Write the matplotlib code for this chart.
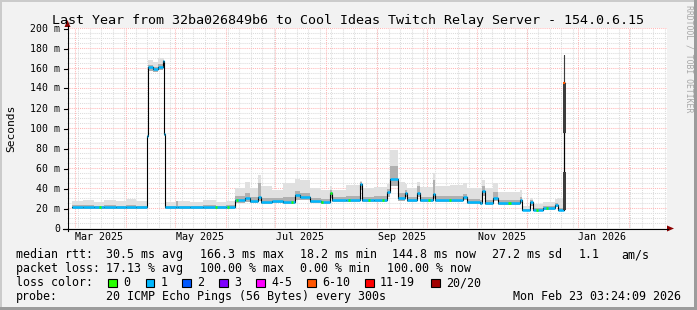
import numpy as np
import matplotlib
matplotlib.use("Agg")
import matplotlib.pyplot as plt
from matplotlib.patches import Rectangle, Polygon
from matplotlib.lines import Line2D

# days since 2025-03-01, one node per step of the median line
days = [-1.5, 5, 12, 18, 25, 31, 37, 44.1, 44.7, 47.7, 50.8, 53.8, 54.4, 55.0, 61.7, 62.6,
        70, 78, 86, 92, 97.6, 103.7, 106.8, 111.6, 113.5, 120, 126.8, 134.1, 137.2, 143.2,
        150, 155.4, 156.6, 165, 173.5, 174.8, 182, 190.1, 191.9, 196.8, 201.0, 202.2, 208.3,
        210.1, 218.1, 219.3, 228, 236.3, 238.7, 246.6, 247.8, 249.6, 254.5, 257.5, 264,
        270.9, 272.1, 276.9, 278.8, 284.9, 292.2, 294.1, 297.4, 298.3]
median_ms = [21, 21, 21, 21, 21, 21, 21, 92, 161, 159, 161, 167, 94, 21, 21, 21,
             21, 21, 21, 21, 28, 30, 27, 31, 26, 27, 26, 33, 31, 27,
             26, 35, 28, 28, 44, 28, 28, 36, 49, 30, 35, 28, 35,
             28, 34, 28, 28, 31, 26, 25, 37, 25, 30, 25, 25,
             28, 18, 26, 18, 20, 23, 18, 145, 145]
smoke_lo = [19, 19, 19, 19, 19, 19, 19, 90, 157, 156, 158, 163, 92, 19, 19, 19,
            19, 19, 19, 19, 25, 26, 25, 27, 24, 25, 24, 28, 28, 25,
            24, 30, 26, 26, 38, 26, 26, 31, 42, 27, 31, 26, 31,
            26, 30, 26, 26, 28, 24, 23, 32, 23, 27, 23, 23,
            25, 17, 22, 17, 18, 21, 17, 145, 145]
smoke_dark = [23, 23, 22, 23, 22, 23, 22, 93, 163, 161, 164, 168, 95, 22, 27, 22,
              22, 23, 22, 23, 32, 35, 31, 45, 30, 30, 31, 37, 35, 30,
              29, 38, 31, 32, 46, 31, 32, 39, 62, 35, 38, 31, 42,
              31, 48, 32, 32, 34, 29, 28, 42, 28, 36, 28, 28,
              31, 19, 28, 20, 22, 25, 20, 145, 145]
smoke_hi = [27, 28, 26, 28, 27, 29, 27, 95, 168, 166, 170, 170, 96, 26, 27, 27,
            26, 28, 26, 27, 40, 46, 40, 53, 42, 38, 45, 49, 48, 40,
            38, 42, 38, 43, 47, 40, 41, 44, 78, 46, 44, 40, 46,
            41, 55, 42, 43, 45, 40, 40, 48, 40, 45, 36, 36,
            38, 22, 30, 24, 26, 29, 30, 145, 145]
loss_idx = [1] * 62 + [5, 5]
green_days = [15.5, 86.1, 93.4, 98.8, 132.3, 150.5, 156, 167, 179.2, 187.7,
              215.7, 228.5, 264.4, 281.4, 287.5]

# last burst before the data stops
burst_day = 297.9
burst_lo = [18, 95, 145]
burst_hi = [56, 145, 173]

loss_labels = ["0", "1", "2", "3", "4-5", "6-10", "11-19", "20/20"]
loss_colors = ["#26ff00", "#00b8ff", "#0059ff", "#7e00ff", "#ff00ff", "#ff5500", "#ff0000", "#a00000"]

y_ticks = list(range(0, 201, 20))
month_labels = ["Mar 2025", "May 2025", "Jul 2025", "Sep 2025", "Nov 2025", "Jan 2026"]
label_months = ["2025-03", "2025-05", "2025-07", "2025-09", "2025-11", "2026-01"]

title = "Last Year from 32ba026849b6 to Cool Ideas Twitch Relay Server - 154.0.6.15"
rtt_row = [(16, "median rtt:"), (106.5, "30.5 ms avg"), (199.5, "166.3 ms max"),
           (299.5, "18.2 ms min"), (392.5, "144.8 ms now"), (492.5, "27.2 ms sd"),
           (579, "1.1"), (621.5, "am/s")]
loss_row = [(16, "packet loss:"), (106.5, "17.13 % avg"), (199.5, "100.00 % max"),
            (299.5, "0.00 % min"), (386.5, "100.00 % now")]
probe_text = "20 ICMP Echo Pings (56 Bytes) every 300s"
stamp_text = "Mon Feb 23 03:24:09 2026"
box_x = [108, 145.5, 182, 219, 256, 307, 365, 431]

MONO = "DejaVu Sans Mono"
W, H = 697, 310


def fx(x):
    return x / W


def fy(y):
    return 1 - y / H


base = np.datetime64("2025-03-01")
fig = plt.figure(figsize=(W / 100, H / 100), dpi=100, facecolor="#f2f2f2")

# frame shading
fig.add_artist(Rectangle((0, fy(2)), 1, 2 / H, transform=fig.transFigure, color="#cbcbcb", lw=0))
fig.add_artist(Rectangle((0, 0), 2 / W, 1, transform=fig.transFigure, color="#cbcbcb", lw=0))
fig.add_artist(Rectangle((0, 0), 1, 3 / H, transform=fig.transFigure, color="#9c9c9c", lw=0))
fig.add_artist(Rectangle((fx(694), 0), 3 / W, 1, transform=fig.transFigure, color="#9c9c9c", lw=0))

ax = fig.add_axes([fx(67), fy(228), 600 / W, 200 / H])
ax.set_facecolor("white")
ax.set_xlim(-4.7, 360.3)
ax.set_ylim(0, 200)
for s in ax.spines.values():
    s.set_visible(False)
ax.set_xticks([])
ax.set_yticks([])

# grid
month_days = (np.arange("2025-03", "2026-03", dtype="datetime64[M]").astype("datetime64[D]") - base).astype(int)
week_days = np.arange(2, 360, 7)
gkw = dict(lw=0.75, ls=(0, (1, 1)), zorder=0.5)
for v in range(5, 201, 5):
    if v % 20:
        ax.axhline(v, color="#dcdcdc", **gkw)
for wd in week_days:
    ax.axvline(wd, color="#dcdcdc", **gkw)
for v in y_ticks[1:]:
    ax.axhline(v, color="#ffb8b8", **gkw)
for md in month_days:
    ax.axvline(md, color="#ffb8b8", **gkw)

# smoke and median
d = np.array(days)
m = np.array(median_ms)
ax.fill_between(d, smoke_lo, smoke_hi, step="post", color="#e0e0e0", lw=0, zorder=1)
ax.fill_between(d, smoke_lo, smoke_dark, step="post", color="#b0b0b0", lw=0, zorder=1.1)
ax.step(d, m, where="post", color="black", lw=0.8, zorder=2)
ax.hlines(m[:-1], d[:-1], d[1:], colors=[loss_colors[i] for i in loss_idx[:-1]], lw=1.8, zorder=3)
for g in green_days:
    i = np.searchsorted(d, g, side="right") - 1
    ax.hlines(m[i], g - 0.7, g + 0.7, color=loss_colors[0], lw=1.8, zorder=3.5)

ax.vlines(burst_day, burst_lo[0], burst_hi[-1], color="black", lw=0.8, zorder=4)
ax.bar([burst_day] * 3, np.subtract(burst_hi, burst_lo), bottom=burst_lo,
       width=[1.5, 1.5, 0.9], color="#3c3c3c", lw=0, zorder=4)
ax.hlines(median_ms[-1], burst_day - 0.8, burst_day + 0.3, color=loss_colors[5], lw=1.5, zorder=5)

# axes lines, ticks and arrows
line_kw = dict(transform=fig.transFigure, color="black", lw=0.8)
fig.add_artist(Line2D([fx(67.5), fx(67.5)], [fy(231), fy(26)], **line_kw))
fig.add_artist(Line2D([fx(63), fx(668)], [fy(228.5), fy(228.5)], **line_kw))
for v in y_ticks:
    fig.add_artist(Line2D([fx(63.5), fx(67.5)], [fy(228.5 - v), fy(228.5 - v)], **line_kw))
fig.add_artist(Polygon([(fx(67.5), fy(20)), (fx(64.5), fy(27)), (fx(70.5), fy(27))],
                       closed=True, transform=fig.transFigure, color="#8b0000", lw=0))
fig.add_artist(Polygon([(fx(674), fy(228.5)), (fx(667), fy(225.5)), (fx(667), fy(231.5))],
                       closed=True, transform=fig.transFigure, color="#8b0000", lw=0))

for v in y_ticks:
    fig.text(fx(60), fy(228.5 - v), "0" if v == 0 else f"{v} m", ha="right", va="center",
             family=MONO, size=7.1)
for lab, mo in zip(month_labels, label_months):
    md = (np.datetime64(mo + "-01") - base).astype(int) + 15
    ax.text(md, -12, lab, ha="center", va="baseline", family=MONO, size=7.2, clip_on=False)

fig.text(fx(11), fy(128), "Seconds", rotation=90, ha="center", va="center", family=MONO, size=8.1)
fig.text(fx(348), fy(24), title, ha="center", va="baseline", family=MONO, size=9.6)
fig.text(fx(689), fy(5), "RRDTOOL / TOBI OETIKER", rotation=270, ha="center", va="top",
         family=MONO, size=5.9, color="#a8a8a8")

# legend
for x, s in rtt_row:
    fig.text(fx(x), fy(258.3), s, ha="left", va="baseline", family=MONO, size=8.4)
for x, s in loss_row:
    fig.text(fx(x), fy(272.3), s, ha="left", va="baseline", family=MONO, size=8.4)
fig.text(fx(16), fy(286.2), "loss color:", ha="left", va="baseline", family=MONO, size=8.4)
for bx, lab, col in zip(box_x, loss_labels, loss_colors):
    fig.add_artist(Rectangle((fx(bx), fy(287)), 8.5 / W, 8.5 / H, transform=fig.transFigure,
                             facecolor=col, edgecolor="black", lw=0.8))
    fig.text(fx(bx + 15), fy(286.2), lab, ha="left", va="baseline", family=MONO, size=8.4)
fig.text(fx(16), fy(300), "probe:", ha="left", va="baseline", family=MONO, size=8.4)
fig.text(fx(106.5), fy(300), probe_text, ha="left", va="baseline", family=MONO, size=8.4)
fig.text(fx(681), fy(300), stamp_text, ha="right", va="baseline", family=MONO, size=8.4)

fig.savefig("out.png", dpi=100, facecolor=fig.get_facecolor())
